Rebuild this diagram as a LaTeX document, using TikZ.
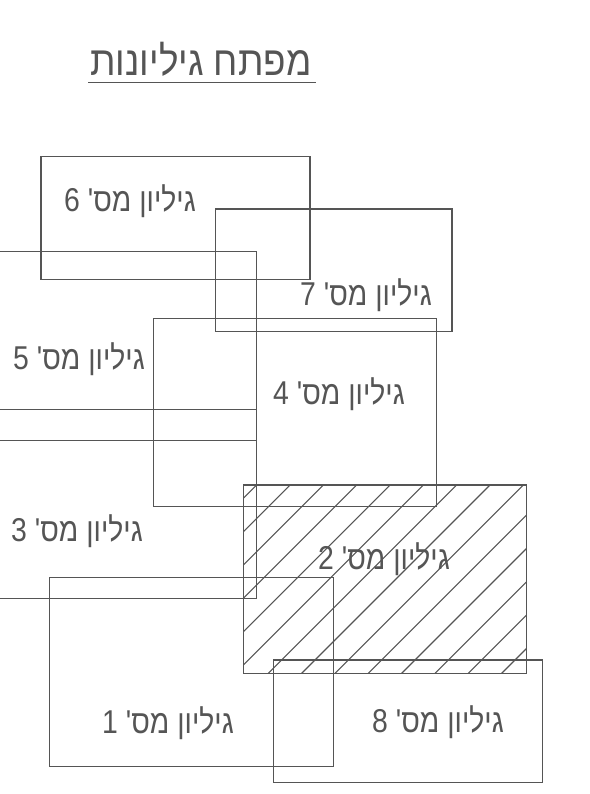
\documentclass[tikz,border=0pt]{standalone}
\usepackage{fontspec}
\TeXXeTstate=1
\newfontfamily\hebfont[Script=Hebrew,Ligatures=TeXOff,FakeStretch=0.86]{Liberation Sans}
\newfontfamily\hebtitlefont[Script=Hebrew,Ligatures=TeXOff,FakeStretch=0.9]{Liberation Sans}
\definecolor{sheetgray}{RGB}{85,85,85}
\tikzset{
  sheetline/.style={draw=sheetgray, line width=1.3pt},
  hatchline/.style={draw=sheetgray, line width=1.1pt},
  sheetlabel/.style={text=sheetgray, font=\hebfont\fontsize{33}{36}\selectfont, inner sep=0pt, anchor=base},
  titlelabel/.style={text=sheetgray, font=\hebtitlefont\fontsize{41}{44}\selectfont, inner sep=0pt, anchor=base}
}
\begin{document}
\begin{tikzpicture}[x=1pt,y=-1pt]
\useasboundingbox (0,0) rectangle (589,794);
\clip (0,0) rectangle (589,794);
% title
\node[titlelabel] (title) at (201,76) {\beginR מפתח גיליונות\endR};
\draw[sheetline, line width=1.6pt] (88,82.7) -- (316,82.7);
% hatching of sheet 2
\begin{scope}
  \clip (243.3,485) rectangle (526.7,673.3);
  \foreach \k in {-1,...,15} {
    \pgfmathsetmacro{\s}{741.7+33.33*\k}
    \draw[hatchline] (\s-800,800) -- (\s,0);
  }
\end{scope}
% sheets
\draw[sheetline] (41,156.7) rectangle (310,279.3);        % 6
\draw[sheetline] (215.5,209) rectangle (452,331.7);       % 7
\draw[sheetline] (-10,251.7) rectangle (256.7,440.7);     % 5
\draw[sheetline] (-10,409.3) rectangle (256.7,598.3);     % 3
\draw[sheetline] (153.3,318.3) rectangle (436.7,506.7);   % 4
\draw[sheetline] (243.3,485) rectangle (526.7,673.3);     % 2
\draw[sheetline] (49.7,577.7) rectangle (333.3,766.7);    % 1
\draw[sheetline] (273.3,660) rectangle (542.7,782.7);     % 8
% labels
\node[sheetlabel] (l6) at (130,212) {\beginR גיליון מס' 6\endR};
\node[sheetlabel] (l7) at (366,305) {\beginR גיליון מס' 7\endR};
\node[sheetlabel] (l5) at (79,369) {\beginR גיליון מס' 5\endR};
\node[sheetlabel] (l4) at (339,404) {\beginR גיליון מס' 4\endR};
\node[sheetlabel] (l3) at (77,541) {\beginR גיליון מס' 3\endR};
\node[sheetlabel] (l2) at (384,569) {\beginR גיליון מס' 2\endR};
\node[sheetlabel] (l1) at (168,733) {\beginR גיליון מס' 1\endR};
\node[sheetlabel] (l8) at (438,732) {\beginR גיליון מס' 8\endR};
\end{tikzpicture}
\end{document}
